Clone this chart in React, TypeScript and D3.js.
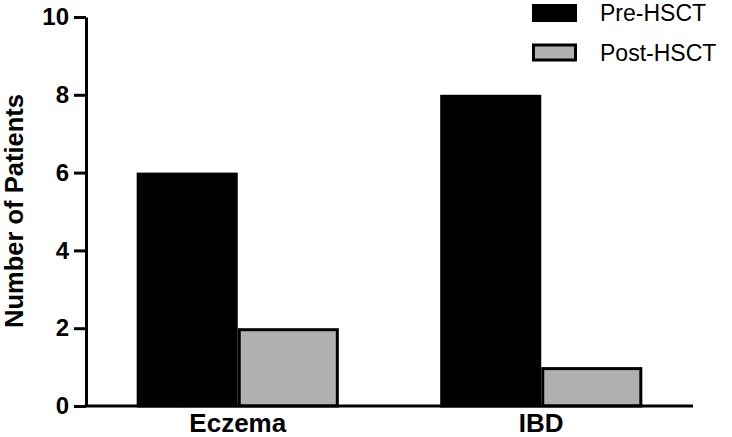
import React, { useEffect, useRef } from 'react'
import * as d3 from 'd3'

const categories = ['Eczema', 'IBD']
const seriesNames = ['Pre-HSCT', 'Post-HSCT']
const preValues = [6, 8]
const postValues = [2, 1]
const yTicks = [0, 2, 4, 6, 8, 10]

const colors: Record<string, string> = {
  'Pre-HSCT': '#000000',
  'Post-HSCT': '#b0b0b0',
}

const width = 732
const height = 437
const margin = { top: 17, right: 39, bottom: 31, left: 86 }

const App: React.FC = () => {
  const svgRef = useRef<SVGSVGElement>(null)

  useEffect(() => {
    if (!svgRef.current) return
    const svg = d3.select(svgRef.current)
    svg.selectAll('*').remove()

    const font = "'Liberation Sans', Arial, sans-serif"

    const xScale = d3
      .scaleBand()
      .domain(categories)
      .range([margin.left, width - margin.right])
      .paddingInner(0.334)
      .paddingOuter(0.167)

    const subScale = d3.scaleBand().domain(seriesNames).range([0, xScale.bandwidth()]).padding(0)

    const yScale = d3
      .scaleLinear()
      .domain([0, 10])
      .range([height - margin.bottom, margin.top])

    const rows = categories.map((c, i) => ({
      category: c,
      values: [
        { key: 'Pre-HSCT', value: preValues[i] },
        { key: 'Post-HSCT', value: postValues[i] },
      ],
    }))

    // bars
    const groups = svg
      .append('g')
      .selectAll('g')
      .data(rows)
      .enter()
      .append('g')
      .attr('transform', (d) => `translate(${xScale(d.category)},0)`)

    groups
      .selectAll('rect')
      .data((d) => d.values)
      .enter()
      .append('rect')
      .attr('x', (d) => (subScale(d.key) as number) + 1.5)
      .attr('y', (d) => yScale(d.value) + 1.5)
      .attr('width', subScale.bandwidth() - 3)
      .attr('height', (d) => yScale(0) - yScale(d.value) - 1.5)
      .attr('fill', (d) => colors[d.key])
      .attr('stroke', '#000')
      .attr('stroke-width', 3)

    // y axis
    const yAxis = svg
      .append('g')
      .attr('transform', `translate(${margin.left},0)`)
      .call(d3.axisLeft(yScale).tickValues(yTicks).tickSize(12).tickSizeOuter(0).tickPadding(5))
    yAxis.select('.domain').attr('stroke', '#000').attr('stroke-width', 3)
    yAxis.selectAll('.tick line').attr('stroke', '#000').attr('stroke-width', 3)
    yAxis
      .selectAll('.tick text')
      .attr('fill', '#000')
      .style('font-family', font)
      .style('font-size', '24px')
      .style('font-weight', 'bold')

    // x axis
    const xAxis = svg
      .append('g')
      .attr('transform', `translate(0,${yScale(0)})`)
      .call(d3.axisBottom(xScale).tickSize(0).tickSizeOuter(0).tickPadding(8))
    xAxis
      .select('.domain')
      .attr('stroke', '#000')
      .attr('stroke-width', 3)
      .attr('d', `M${margin.left - 1.5},0H${width - margin.right}`)
    xAxis
      .selectAll('.tick text')
      .attr('fill', '#000')
      .style('font-family', font)
      .style('font-size', '26px')
      .style('font-weight', 'bold')

    // axis title
    svg
      .append('text')
      .attr('transform', `translate(23,${(yScale(0) + yScale(10)) / 2 - 0.5}) rotate(-90)`)
      .attr('text-anchor', 'middle')
      .style('font-family', font)
      .style('font-size', '25.5px')
      .style('font-weight', 'bold')
      .text('Number of Patients')

    // legend
    const legend = svg
      .append('g')
      .selectAll('g')
      .data(seriesNames)
      .enter()
      .append('g')
      .attr('transform', (d, i) => `translate(532,${4 + i * 39.5})`)

    legend
      .append('rect')
      .attr('x', 1.5)
      .attr('y', 1.5)
      .attr('width', 42)
      .attr('height', 15)
      .attr('fill', (d) => colors[d])
      .attr('stroke', '#000')
      .attr('stroke-width', 3)

    legend
      .append('text')
      .attr('x', 68)
      .attr('y', 17)
      .style('font-family', font)
      .style('font-size', '23px')
      .text((d) => d)
  }, [])

  return (
    <svg
      ref={svgRef}
      width={width}
      height={height}
      style={{ position: 'absolute', left: 0, top: 0, background: '#fff' }}
    />
  )
}

export default App
